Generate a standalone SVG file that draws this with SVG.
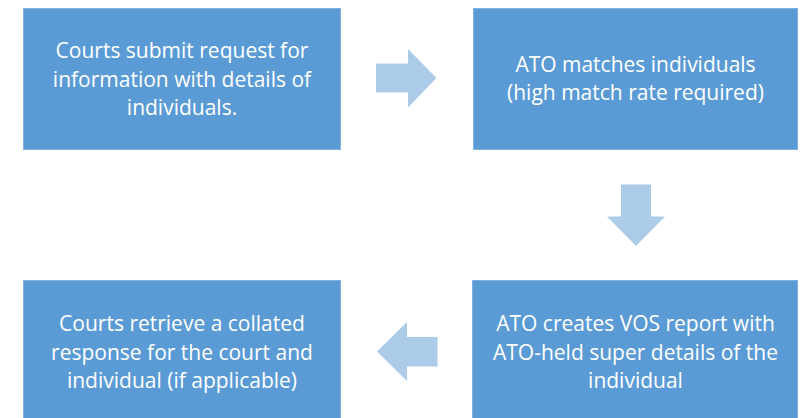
<svg xmlns="http://www.w3.org/2000/svg" width="802" height="418" viewBox="0 0 802 418">
<style>
.box{fill:#5B9BD5;stroke:#7FB0E0;stroke-width:1}
.lbl{font-family:"Open Sans","Noto Sans","Liberation Sans",sans-serif;font-size:21px;fill:#FFFFFF;text-anchor:middle}
.arr{fill:#ACCBE9}
</style>
<rect width="802" height="418" fill="#FFFFFF"/>
<g id="connectors">
<polygon class="arr" points="376,63.5 408,63.5 408,49 436.5,78 408,107.5 408,92.5 376,92.5"/>
<polygon class="arr" points="621,184.5 651,184.5 651,216.5 665,216.5 636,246 607,216.5 621,216.5"/>
<polygon class="arr" points="437.5,337 407,337 407,322 377,351.5 407,381 407,366.5 437.5,366.5"/>
</g>
<g id="node1">
<rect class="box" x="23.5" y="8.5" width="317" height="141"/>
<text class="lbl" x="182" y="58">Courts submit request for</text>
<text class="lbl" x="182" y="87">information with details of</text>
<text class="lbl" x="182" y="115">individuals.</text>
</g>
<g id="node2">
<rect class="box" x="473.5" y="8.5" width="324" height="141"/>
<text class="lbl" x="635.5" y="72">ATO matches individuals</text>
<text class="lbl" x="635.5" y="100">(high match rate required)</text>
</g>
<g id="node3">
<rect class="box" x="472.5" y="280.5" width="325" height="140"/>
<text class="lbl" x="635.5" y="331">ATO creates VOS report with</text>
<text class="lbl" x="635.5" y="359.5">ATO-held super details of the</text>
<text class="lbl" x="635.5" y="388">individual</text>
</g>
<g id="node4">
<rect class="box" x="23.5" y="280.5" width="317" height="140"/>
<text class="lbl" x="182" y="331">Courts retrieve a collated</text>
<text class="lbl" x="182" y="359.5">response for the court and</text>
<text class="lbl" x="182" y="388">individual (if applicable)</text>
</g>
</svg>
